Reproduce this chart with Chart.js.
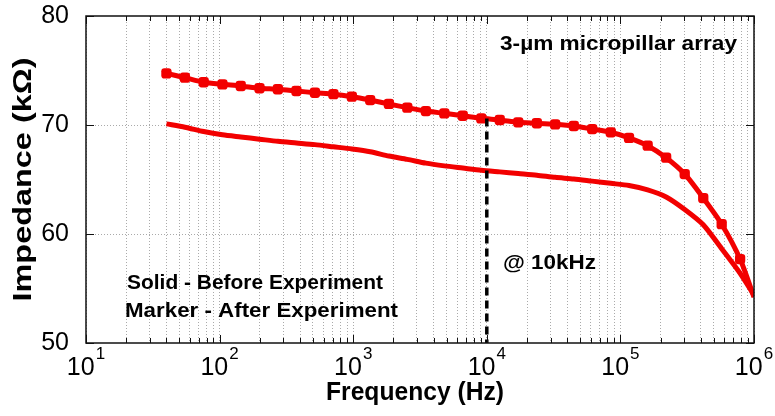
<!DOCTYPE html>
<html><head><meta charset="utf-8">
<script src="https://cdn.jsdelivr.net/npm/chart.js@4/dist/chart.umd.min.js"></script>
<style>html,body{margin:0;padding:0;background:#fff}</style>
</head><body>
<canvas id="c" width="775" height="416"></canvas>
<script>
// ---- data ----
const frequencies = [40, 55, 76, 105, 144, 199, 273, 376, 517, 711, 977, 1340, 1850, 2540, 3500, 4810, 6610, 9100, 12500, 17200, 23700, 32500, 44800, 61500, 84700, 116000, 160000, 220000, 303000, 417000, 573000, 787000, 1000000];
const afterExperiment = [74.74, 74.34, 73.92, 73.73, 73.58, 73.37, 73.28, 73.12, 72.96, 72.83, 72.60, 72.29, 71.93, 71.59, 71.28, 71.07, 70.85, 70.61, 70.46, 70.25, 70.16, 70.06, 69.91, 69.63, 69.33, 68.82, 68.10, 67.0, 65.5, 63.3, 60.9, 57.7, 54.2];
const beforeExperiment = [70.1, 69.8, 69.4, 69.1, 68.9, 68.7, 68.5, 68.35, 68.2, 68.0, 67.8, 67.55, 67.15, 66.85, 66.5, 66.25, 66.05, 65.85, 65.7, 65.55, 65.4, 65.2, 65.05, 64.85, 64.65, 64.45, 64.05, 63.4, 62.25, 60.85, 58.65, 56.4, 54.4];
const markerFrequency = [10000, 10000];
const markerImpedance = [70.6, 50];
const xDecades = [10, 100, 1000, 10000, 100000, 1000000];
const xTickBase = ['10', '10', '10', '10', '10', '10'];
const xTickExponents = ['1', '2', '3', '4', '5', '6'];
const xMinorMultipliers = [1, 2, 3, 4, 5, 6, 7, 8, 9];
const yTickValues = [50, 60, 70, 80];
const yTickLabels = ['50', '60', '70', '80'];
const xTitle = 'Frequency (Hz)';
const yTitle = 'Impedance (k\u03A9)';

const xTicks = [];
xDecades.forEach((d, i) => {
  if (i === xDecades.length - 1) { xTicks.push(d); return; }
  xMinorMultipliers.forEach(m => xTicks.push(d * m));
});

const FONT = "'Liberation Sans', Arial, sans-serif";
Chart.defaults.font.family = FONT;
Chart.defaults.color = '#000';
const RED = '#f20000';

function stretchText(ctx, text, x, y, size, width, bold) {
  ctx.font = (bold ? 'bold ' : '') + size + 'px ' + FONT;
  const w = ctx.measureText(text).width;
  ctx.save();
  ctx.translate(x, y);
  ctx.scale(width / w, 1);
  ctx.fillText(text, 0, 0);
  ctx.restore();
}

const framePlugin = {
  id: 'frame',
  afterDraw(chart) {
    const {ctx, chartArea: a, scales} = chart;
    ctx.save();
    ctx.strokeStyle = '#111';
    ctx.lineWidth = 1;
    ctx.beginPath();
    scales.x.ticks.forEach(t => {
      const px = Math.round(scales.x.getPixelForValue(t.value)) + 0.5;
      const len = xDecades.includes(t.value) ? 8 : 5;
      ctx.moveTo(px, a.bottom); ctx.lineTo(px, a.bottom - len);
      ctx.moveTo(px, a.top); ctx.lineTo(px, a.top + len);
    });
    scales.y.ticks.forEach(t => {
      const py = Math.round(scales.y.getPixelForValue(t.value)) + 0.5;
      ctx.moveTo(a.left, py); ctx.lineTo(a.left + 8, py);
      ctx.moveTo(a.right, py); ctx.lineTo(a.right - 8, py);
    });
    ctx.stroke();
    ctx.lineWidth = 1.5;
    ctx.strokeRect(a.left, a.top, a.right - a.left, a.bottom - a.top);

    ctx.fillStyle = '#000';
    // x tick labels: 10 with superscript exponent
    ctx.textBaseline = 'alphabetic';
    ctx.textAlign = 'left';
    xDecades.forEach((d, i) => {
      const px = scales.x.getPixelForValue(d);
      ctx.font = '25px ' + FONT;
      const bw = ctx.measureText(xTickBase[i]).width;
      ctx.font = '17px ' + FONT;
      const ew = ctx.measureText(xTickExponents[i]).width;
      const x0 = px - (bw + ew + 1) / 2;
      ctx.font = '25px ' + FONT;
      ctx.fillText(xTickBase[i], x0, a.bottom + 32);
      ctx.font = '17px ' + FONT;
      ctx.fillText(xTickExponents[i], x0 + bw + 1, a.bottom + 16);
    });

    // axis titles
    ctx.textBaseline = 'middle';
    ctx.textAlign = 'left';
    stretchText(ctx, xTitle, 326, 393, 25, 178, true);
    ctx.save();
    ctx.translate(24, (a.top + a.bottom) / 2 + 122);
    ctx.rotate(-Math.PI / 2);
    stretchText(ctx, yTitle, 0, 0, 25, 244, true);
    ctx.restore();

    // annotations
    stretchText(ctx, '3-\u00B5m micropillar array', 500, 44, 20, 237, true);
    stretchText(ctx, 'Solid - Before Experiment', 127, 283, 20, 256, true);
    stretchText(ctx, 'Marker - After Experiment', 125, 311, 20, 273, true);
    stretchText(ctx, '@ 10kHz', 503, 263, 20, 93, true);
    ctx.restore();
  }
};

new Chart(document.getElementById('c'), {
  type: 'line',
  data: {
    datasets: [
      {
        label: '@ 10kHz',
        data: markerFrequency.map((f, i) => ({x: f, y: markerImpedance[i]})),
        borderColor: '#000', borderWidth: 3.5, borderDash: [8, 5], pointRadius: 0, fill: false
      },
      {
        label: 'Marker - After Experiment',
        data: frequencies.map((f, i) => ({x: f, y: afterExperiment[i]})),
        borderColor: RED, backgroundColor: RED, borderWidth: 5, tension: 0.25,
        pointStyle: 'rectRounded',
        pointRadius: ctx => (ctx.dataIndex === frequencies.length - 1 ? 0 : 6),
        pointBorderWidth: 0, fill: false
      },
      {
        label: 'Solid - Before Experiment',
        data: frequencies.map((f, i) => ({x: f, y: beforeExperiment[i]})),
        borderColor: RED, borderWidth: 5, tension: 0.25, pointRadius: 0, fill: false
      }
    ]
  },
  options: {
    responsive: false, animation: false, devicePixelRatio: 1,
    layout: {padding: {left: 8, right: 21, top: 16, bottom: 8}},
    plugins: {legend: {display: false}, tooltip: {enabled: false}},
    scales: {
      x: {
        type: 'logarithmic', min: 10, max: 1000000,
        afterBuildTicks: s => { s.ticks = xTicks.map(v => ({value: v, major: xDecades.includes(v)})); },
        afterFit: s => { s.height = 416 - 343 - 8; s.paddingLeft = 0; s.paddingRight = 0; },
        ticks: {display: false, autoSkip: false, maxRotation: 0, minRotation: 0},
        grid: {color: '#aaaaaa', lineWidth: 1, drawTicks: false},
        border: {display: false, dash: [1, 2]},
        title: {display: false, text: xTitle}
      },
      y: {
        min: 50, max: 80,
        afterBuildTicks: s => { s.ticks = yTickValues.map(v => ({value: v})); },
        afterFit: s => { s.width = 86 - 8; s.paddingTop = 0; s.paddingBottom = 0; },
        ticks: {padding: 17, font: {size: 25}, color: '#000',
          callback: v => yTickLabels[yTickValues.indexOf(v)]},
        grid: {color: c => (c.tick && (c.tick.value === 50 || c.tick.value === 80)) ? 'rgba(0,0,0,0)' : '#aaaaaa', lineWidth: 1, drawTicks: false},
        border: {display: false, dash: [1, 2]},
        title: {display: false, text: yTitle}
      }
    }
  },
  plugins: [framePlugin]
});
</script>
</body></html>
